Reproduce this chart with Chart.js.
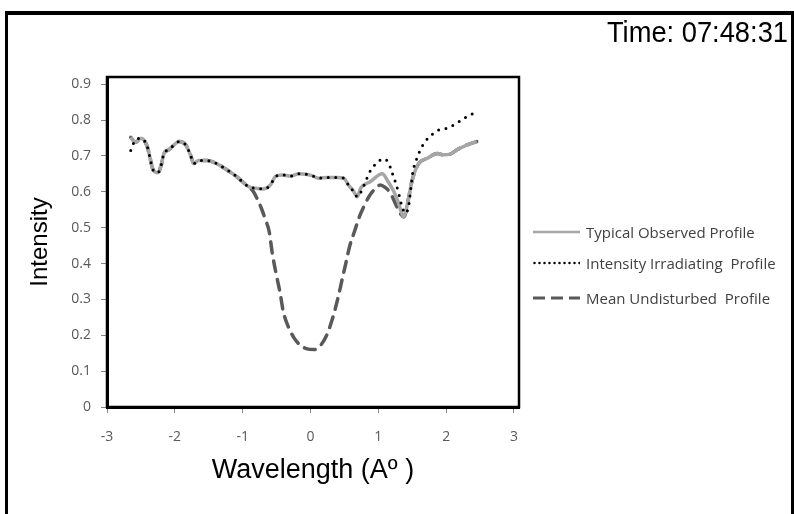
<!-- Line profile chart: observed / irradiating / undisturbed intensity vs wavelength -->
<html>
<head>
<meta charset="utf-8">
<title>Intensity Profiles</title>
<script src="https://cdn.jsdelivr.net/npm/chart.js"></script>
<style>
    body { margin: 0; width: 794px; height: 514px; overflow: hidden; background: #fff; position: relative; }
    #chart { position: absolute; left: 0; top: 0; }
    #frame { position: absolute; left: 5px; top: 11px; width: 783px; height: 600px;
             border-top: 4px solid #000; border-left: 3px solid #000; border-right: 3px solid #000; pointer-events: none; }
    #time { position: absolute; right: 6px; top: 17px; font-family: "Liberation Sans", Arial, sans-serif;
            font-size: 30px; line-height: 30px; color: #000; transform: scaleX(0.91); transform-origin: right center; white-space: nowrap; }
    .leg { position: absolute; left: 533px; height: 20px; display: flex; align-items: center;
           font-family: "Open Sans", sans-serif; font-size: 15px; color: #404040; white-space: nowrap; }
    .leg svg { margin-right: 6px; }
</style>
</head>
<body>
<canvas id="chart" width="794" height="514"></canvas>
<div id="frame"></div>
<div id="time">Time: 07:48:31</div>
<div class="leg" style="top:222px">
    <svg width="47" height="8"><line x1="0" y1="4" x2="47" y2="4" stroke="#a6a6a6" stroke-width="2.5"/></svg>Typical Observed Profile
</div>
<div class="leg" style="top:253px">
    <svg width="47" height="8"><line x1="1.5" y1="4" x2="47" y2="4" stroke="#000" stroke-width="2.5" stroke-linecap="round" stroke-dasharray="0 5"/></svg>Intensity Irradiating&nbsp; Profile
</div>
<div class="leg" style="top:288px">
    <svg width="47" height="8"><line x1="0" y1="4" x2="47" y2="4" stroke="#595959" stroke-width="3" stroke-dasharray="12 6"/></svg>Mean Undisturbed&nbsp; Profile
</div>

<script>
    // axis ticks
    const xTicks = [-3, -2, -1, 0, 1, 2, 3];
    const yTicks = [0, 0.1, 0.2, 0.3, 0.4, 0.5, 0.6, 0.7, 0.8, 0.9];
    const yTickLabels = ['0', '0.1', '0.2', '0.3', '0.4', '0.5', '0.6', '0.7', '0.8', '0.9'];

    // Typical Observed Profile
    const observedX = [-2.65, -2.58, -2.50, -2.41, -2.37, -2.32, -2.25, -2.20, -2.16, -2.09, -2.01, -1.94, -1.84, -1.77, -1.72, -1.65, -1.52, -1.40, -1.23, -1.10, -0.98, -0.91, -0.81,
        -0.69, -0.59, -0.52, -0.42, -0.29, -0.17, -0.07, 0.02, 0.12, 0.25, 0.39, 0.49, 0.56, 0.64, 0.69,
        0.74, 0.88, 1.06, 1.13, 1.23, 1.30, 1.37, 1.45, 1.50, 1.60, 1.72, 1.87, 1.96, 2.06, 2.16, 2.31, 2.45];
    const observedY = [0.752, 0.738, 0.749, 0.728, 0.698, 0.661, 0.653, 0.675, 0.707, 0.717, 0.731, 0.740, 0.731, 0.703, 0.679, 0.687, 0.687, 0.680, 0.661, 0.644, 0.624, 0.614, 0.610,
        0.608, 0.619, 0.642, 0.647, 0.644, 0.650, 0.649, 0.645, 0.638, 0.640, 0.640, 0.638, 0.619, 0.600, 0.586,
        0.610, 0.628, 0.650, 0.633, 0.600, 0.568, 0.530, 0.586, 0.633, 0.680, 0.693, 0.707, 0.703, 0.705, 0.717, 0.731, 0.740];

    // Intensity Irradiating Profile
    const irradiatingX = [-2.65, -2.58, -2.50, -2.41, -2.37, -2.32, -2.25, -2.20, -2.16, -2.09, -2.01, -1.94, -1.84, -1.77, -1.72, -1.65, -1.52, -1.40, -1.23, -1.10, -0.98, -0.91, -0.81,
        -0.69, -0.59, -0.52, -0.42, -0.29, -0.17, -0.07, 0.02, 0.12, 0.25, 0.39, 0.49, 0.56, 0.64, 0.69,
        0.76, 0.81, 0.89, 0.98, 1.07, 1.15, 1.20, 1.25, 1.30, 1.35, 1.40, 1.45, 1.48, 1.51, 1.56, 1.62, 1.69, 1.79, 1.89, 2.01, 2.11, 2.21, 2.31, 2.41];
    const irradiatingY = [0.715, 0.745, 0.749, 0.728, 0.698, 0.661, 0.653, 0.675, 0.707, 0.717, 0.731, 0.740, 0.731, 0.703, 0.679, 0.687, 0.687, 0.680, 0.661, 0.644, 0.624, 0.614, 0.610,
        0.608, 0.619, 0.642, 0.647, 0.644, 0.650, 0.649, 0.645, 0.638, 0.640, 0.640, 0.638, 0.619, 0.600, 0.586,
        0.605, 0.628, 0.661, 0.680, 0.692, 0.681, 0.655, 0.628, 0.596, 0.558, 0.540, 0.563, 0.610, 0.656, 0.689, 0.717, 0.740, 0.759, 0.772, 0.777, 0.786, 0.798, 0.810, 0.819];

    // Mean Undisturbed Profile
    const undisturbedX = [-2.65, -2.58, -2.50, -2.41, -2.37, -2.32, -2.25, -2.20, -2.16, -2.09, -2.01, -1.94, -1.84, -1.77, -1.72, -1.65, -1.52, -1.40, -1.23, -1.10, -0.98, -0.91,
        -0.84, -0.78, -0.72, -0.66, -0.61, -0.56, -0.50, -0.45, -0.40, -0.33, -0.25, -0.15, -0.05, 0.05, 0.15, 0.25, 0.33, 0.40, 0.46, 0.52, 0.58, 0.65, 0.72, 0.79, 0.86,
        0.95, 1.03, 1.10, 1.18, 1.25, 1.32, 1.38, 1.45, 1.50, 1.60, 1.72, 1.87, 1.96, 2.06, 2.16, 2.31, 2.45];
    const undisturbedY = [0.752, 0.738, 0.749, 0.728, 0.698, 0.661, 0.653, 0.675, 0.707, 0.717, 0.731, 0.740, 0.731, 0.703, 0.679, 0.687, 0.687, 0.680, 0.661, 0.644, 0.624, 0.614,
        0.600, 0.578, 0.552, 0.520, 0.490, 0.425, 0.365, 0.320, 0.265, 0.225, 0.195, 0.172, 0.162, 0.160, 0.172, 0.205, 0.250, 0.300, 0.350, 0.400, 0.450, 0.490, 0.530, 0.560, 0.586,
        0.608, 0.619, 0.612, 0.596, 0.568, 0.540, 0.530, 0.586, 0.633, 0.680, 0.693, 0.707, 0.703, 0.705, 0.717, 0.731, 0.740];

    function toPoints(xs, ys) {
        return xs.map((x, i) => ({x: x, y: ys[i]}));
    }

    // black box round the plot area
    const plotBox = {
        id: 'plotBox',
        afterDraw(chart) {
            const a = chart.chartArea;
            const ctx = chart.ctx;
            ctx.save();
            ctx.strokeStyle = '#000';
            ctx.lineWidth = 2.5;
            ctx.strokeRect(a.left, a.top, a.right - a.left, a.bottom - a.top);
            ctx.restore();
        }
    };

    const tickFont = {family: '"Open Sans", sans-serif', size: 14};

    new Chart(document.getElementById('chart').getContext('2d'), {
        type: 'line',
        data: {
            datasets: [{
                label: 'Intensity Irradiating  Profile',
                data: toPoints(irradiatingX, irradiatingY),
                borderColor: '#000',
                borderWidth: 3,
                borderDash: [0, 7.5],
                borderCapStyle: 'round',
                order: 0
            }, {
                label: 'Mean Undisturbed  Profile',
                data: toPoints(undisturbedX, undisturbedY),
                borderColor: '#595959',
                borderWidth: 3.5,
                borderDash: [11, 8],
                borderCapStyle: 'round',
                order: 2
            }, {
                label: 'Typical Observed Profile',
                data: toPoints(observedX, observedY),
                borderColor: '#a6a6a6',
                borderWidth: 3.5,
                order: 1
            }]
        },
        options: {
            responsive: false,
            animation: false,
            devicePixelRatio: 1,
            elements: {
                point: {radius: 0},
                line: {cubicInterpolationMode: 'monotone', fill: false}
            },
            layout: {padding: {left: 0, top: 77, right: 275, bottom: 0}},
            plugins: {legend: {display: false}, tooltip: {enabled: false}},
            scales: {
                x: {
                    type: 'linear',
                    min: -3,
                    max: 3.074,
                    afterBuildTicks: (s) => { s.ticks = xTicks.map(v => ({value: v})); },
                    afterFit: (s) => { s.height = 107; },
                    grid: {drawOnChartArea: false, drawTicks: true, tickLength: 6, color: '#868686'},
                    border: {display: true, color: '#000', width: 3},
                    ticks: {color: '#595959', font: tickFont, padding: 16, maxRotation: 0},
                    title: {display: true, text: 'Wavelength (Aº )', color: '#000',
                            font: {family: '"Liberation Sans", Arial, sans-serif', size: 27},
                            padding: {top: 0, bottom: 27}}
                },
                y: {
                    min: 0,
                    max: 0.92,
                    afterBuildTicks: (s) => { s.ticks = yTicks.map(v => ({value: v})); },
                    afterFit: (s) => { s.width = 107; },
                    grid: {drawOnChartArea: false, drawTicks: true, tickLength: 6, color: '#868686'},
                    border: {display: true, color: '#000', width: 3},
                    ticks: {color: '#595959', font: tickFont, padding: 10,
                            callback: (v, i) => yTickLabels[i]},
                    title: {display: true, text: 'Intensity', color: '#000',
                            font: {family: '"Liberation Sans", Arial, sans-serif', size: 24},
                            padding: {top: 26, bottom: 0}}
                }
            }
        },
        plugins: [plotBox]
    });
</script>
</body>
</html>
